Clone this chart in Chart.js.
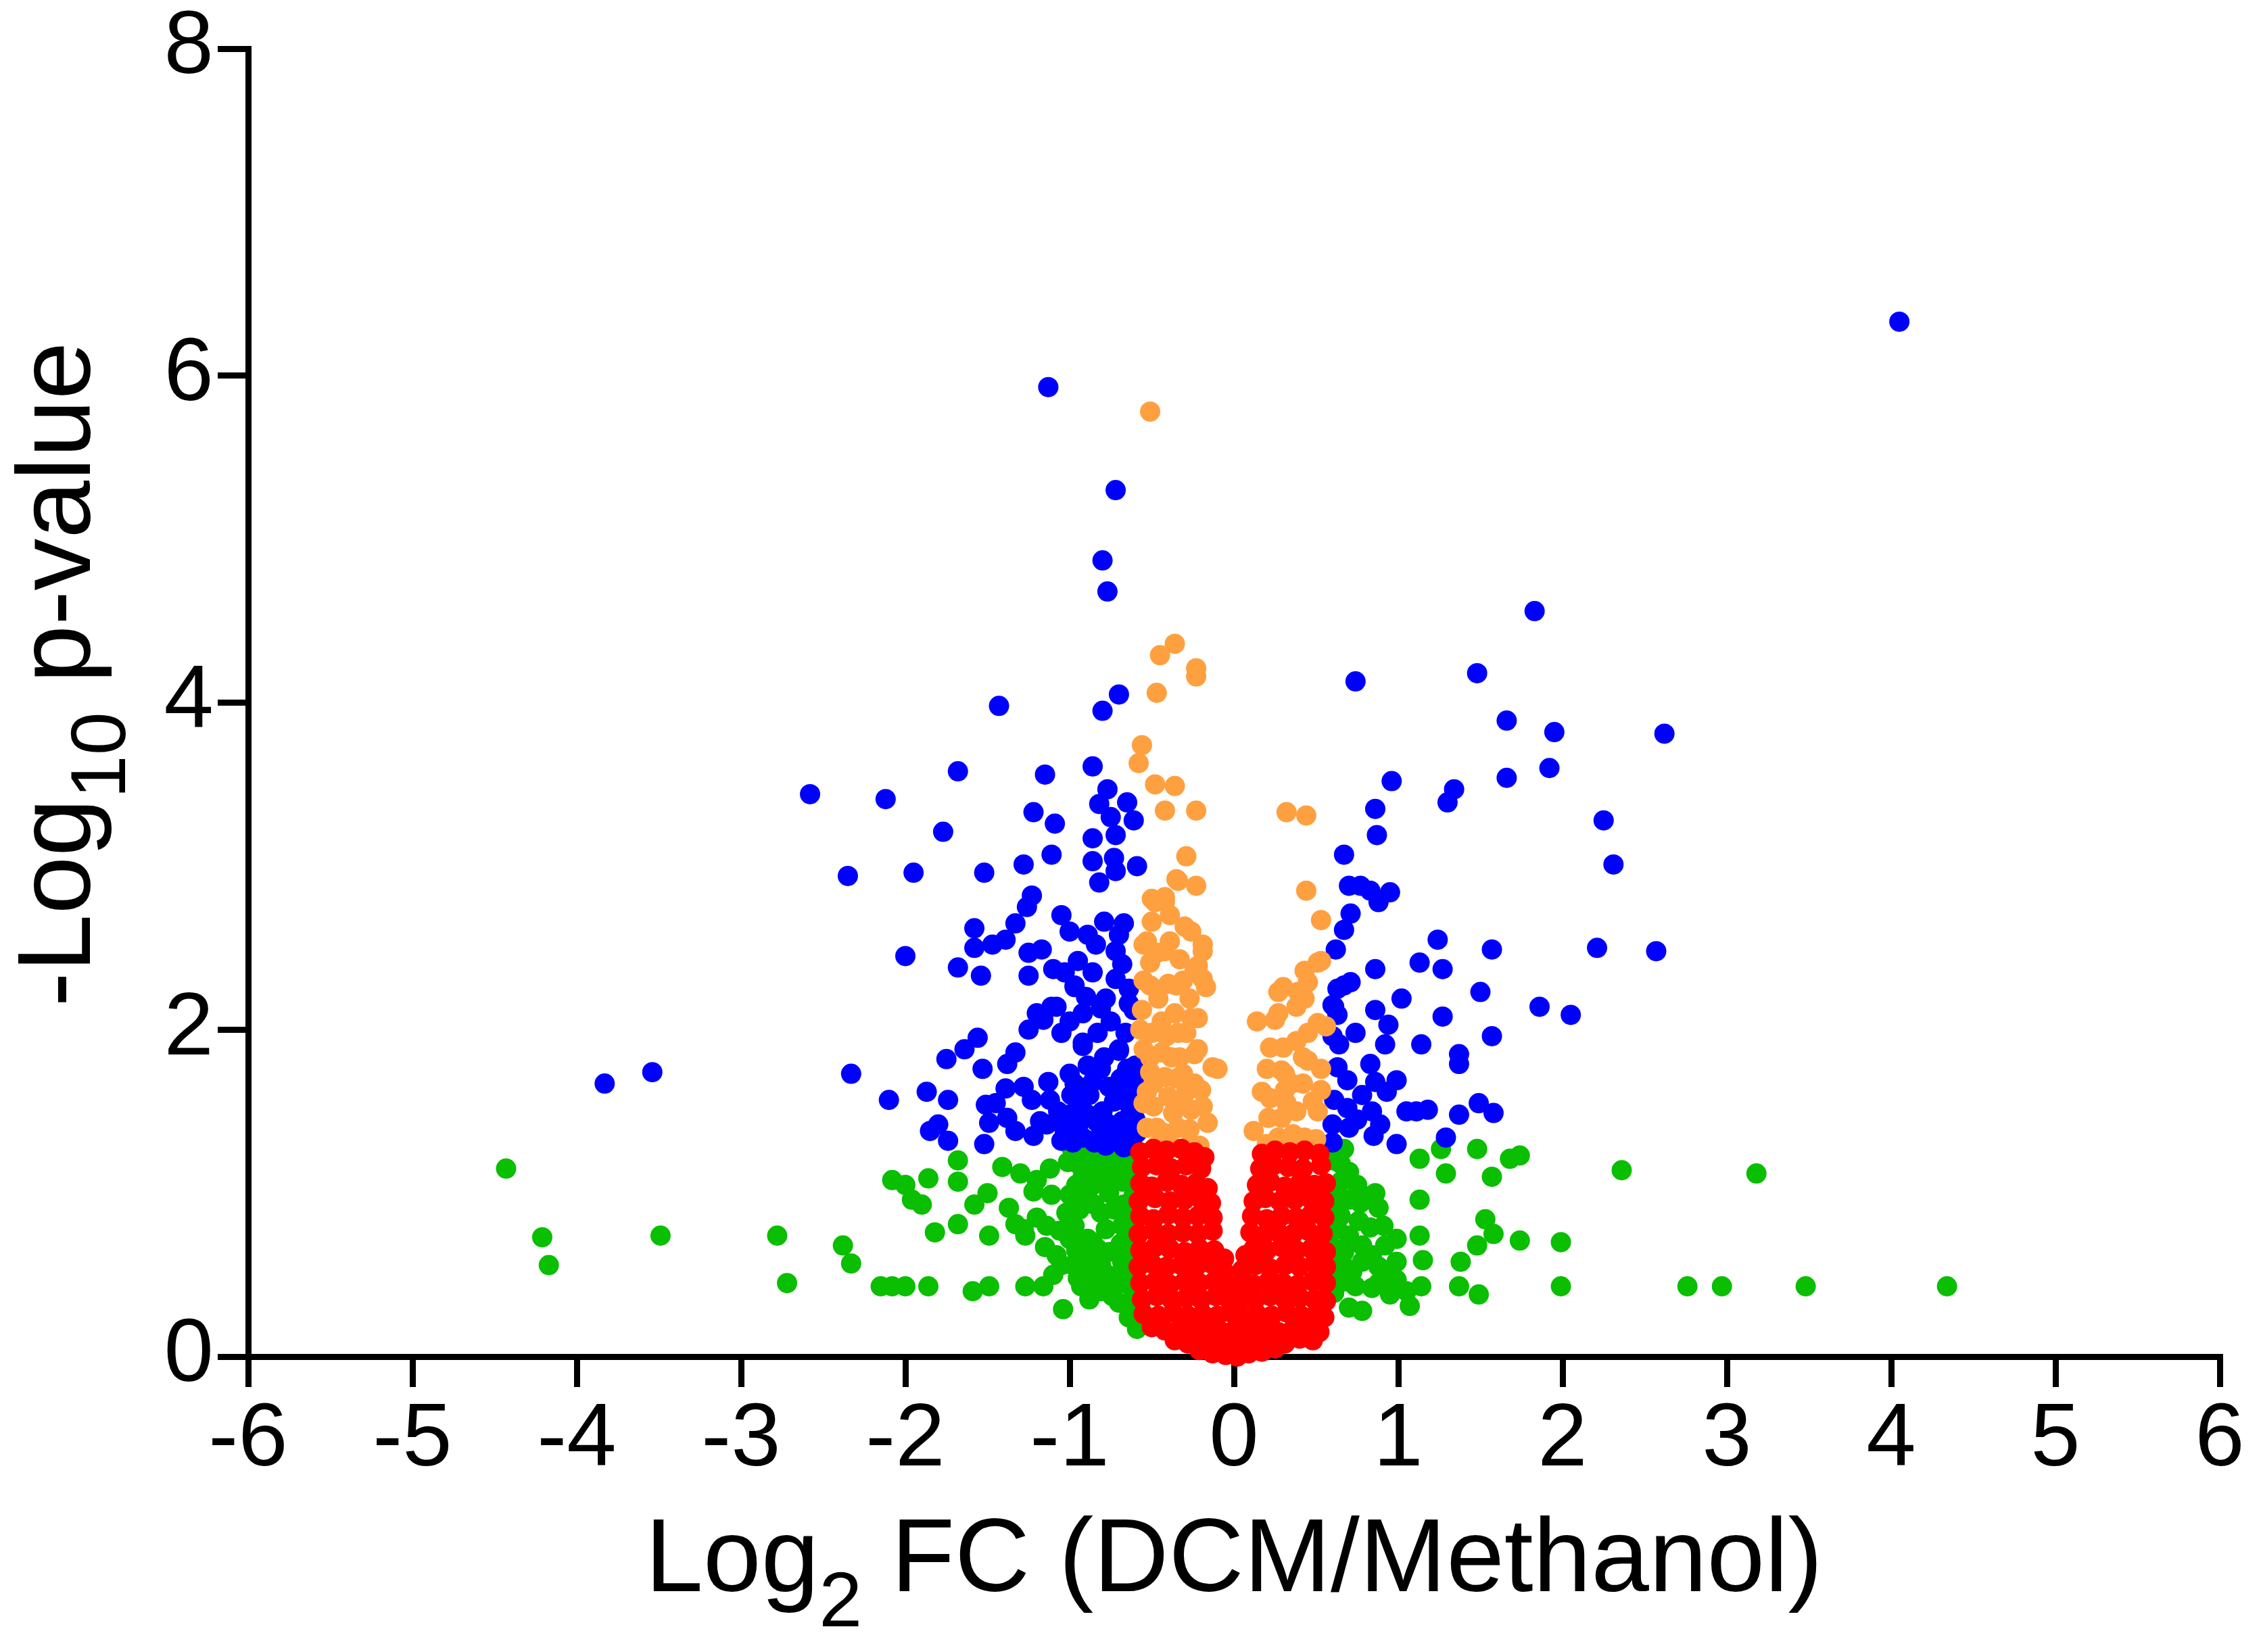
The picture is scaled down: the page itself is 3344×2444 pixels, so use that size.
<!DOCTYPE html>
<html>
<head>
<meta charset="utf-8">
<script src="https://cdn.jsdelivr.net/npm/chart.js@4.4.1/dist/chart.umd.min.js"></script>
<style>
  html, body { margin: 0; padding: 0; background: #fff; }
  canvas { display: block; }
</style>
</head>
<body>
<canvas id="volcano" width="3344" height="2444"></canvas>
<script>
// [log2 FC, -log10 p] pairs
const upOrDownSig = [ // blue: |FC| > 0.58 and p < 0.05
  [4.05,6.33],[-1.13,5.93],[-0.72,5.3],[-0.8,4.87],[-0.77,4.68],[-1.43,3.98],[-0.7,4.05],[-0.8,3.95],
  [1.83,4.56],[1.48,4.18],[0.74,4.13],[1.66,3.89],[1.95,3.82],[2.62,3.81],[0.96,3.52],[1.66,3.54],
  [1.92,3.6],[1.34,3.47],[1.3,3.39],[0.86,3.35],[0.87,3.19],[2.25,3.28],[2.31,3.01],[0.67,3.07],
  [-3.83,1.67],[-3.54,1.74],[-2.58,3.44],[-2.12,3.41],[-2.35,2.94],[-2.33,1.73],[-2.1,1.57],[-2.0,2.45],
  [-1.95,2.96],[-1.77,3.21],[-1.68,3.58],[-1.15,3.56],[-0.86,3.61],[-0.77,3.47],[-0.82,3.38],[-0.65,3.39],
  [-0.75,3.3],[-0.61,3.28],[-0.86,3.17],[-0.72,3.19],[-1.22,3.33],[-1.09,3.26],[-1.11,3.07],[-1.28,3.01],
  [-1.52,2.96],[-0.86,3.03],[-0.73,3.05],[-0.59,3.0],[-0.72,2.97],[-0.82,2.9],[-1.23,2.82],[-1.26,2.75],
  [-1.33,2.65],[-1.58,2.62],[-1.39,2.55],[-1.47,2.52],[-1.58,2.5],[-1.05,2.7],[-1.0,2.6],[-0.89,2.58],
  [-0.79,2.66],[-0.67,2.65],[-0.72,2.48],[-0.84,2.52],[-1.25,2.47],[-1.17,2.49],[-1.1,2.37],[-1.25,2.33],
  [-1.68,2.38],[-1.54,2.33],[-0.86,2.35],[-0.72,2.31],[-0.97,2.26],[-0.78,2.19],[-0.61,2.12],[-1.08,2.14],
  [-1.16,2.06],[-1.25,2.0],[-1.05,1.98],[-0.92,2.1],[-0.92,1.92],[-1.56,1.95],[-1.64,1.88],[-1.75,1.82],
  [-1.53,1.76],[-1.33,1.86],[-1.38,1.79],[-0.7,1.87],[-0.81,1.76],[-0.65,1.76],[-1.0,1.73],[-0.97,2.27],
  [-0.81,2.13],[-0.64,2.16],[-1.2,2.1],[-1.11,2.14],[-1.87,1.62],[-1.74,1.57],[-1.85,1.38],[-1.74,1.32],
  [-1.8,1.42],[-1.52,1.3],[-1.49,1.43],[-1.38,1.46],[-1.33,1.38],[-1.39,1.64],[-1.28,1.65],[-1.23,1.57],
  [-1.13,1.68],[-1.12,1.57],[-1.22,1.35],[-1.14,1.42],[-1.05,1.32],[-0.98,1.31],[-1.0,1.48],[-0.89,1.48],
  [-0.81,1.37],[-0.73,1.56],[-0.6,1.45],[-0.62,1.32],[-0.72,1.32],[-0.97,1.67],[-0.89,1.78],[-0.79,1.83],
  [-0.7,1.88],[-0.59,1.67],[-0.92,1.9],[-0.88,1.6],[-0.8,1.5],[-0.66,1.6],[-0.95,1.4],[-0.85,1.31],
  [-0.68,1.44],[-1.07,1.5],[-1.45,1.55],[-1.51,1.54],[-1.18,1.44],[-1.08,1.44],
  [-0.66,1.36],[-0.76,1.42],[-0.84,1.44],[-0.93,1.55],[-0.86,1.68],[-0.76,1.65],[-0.69,1.7],[-0.63,1.52],
  [-0.99,1.6],[-1.03,1.38],[-0.92,1.34],[-0.78,1.29],[-0.67,1.28],[-0.59,1.37],[-0.59,1.56],[-0.6,1.78],
  [-0.95,2.42],[-0.9,2.2],[-0.68,2.4],[-0.64,2.25],[-0.75,2.05],[-0.66,1.98],[-0.83,1.98],[-1.0,2.05],
  [-1.03,2.35],[-0.7,2.58],
  [0.7,2.88],[0.77,2.88],[0.83,2.85],[0.88,2.78],[0.95,2.84],[0.71,2.71],[0.67,2.61],[0.62,2.49],
  [1.24,2.55],[1.57,2.49],[2.21,2.5],[2.57,2.48],[0.86,2.37],[1.13,2.41],[1.27,2.37],[0.71,2.29],
  [0.63,2.25],[0.6,2.15],[0.63,2.09],[1.02,2.19],[0.86,2.12],[0.94,2.03],[0.92,1.91],[1.5,2.23],
  [1.86,2.14],[2.05,2.09],[1.27,2.08],[1.14,1.91],[1.57,1.96],[1.37,1.85],[1.37,1.79],[0.74,1.98],
  [0.6,1.96],[0.64,1.91],[0.63,1.77],[0.69,1.69],[0.83,1.79],[0.86,1.68],[0.99,1.69],[0.93,1.62],
  [1.49,1.55],[1.58,1.49],[1.11,1.5],[1.18,1.51],[1.37,1.48],[0.61,1.57],[0.69,1.52],[0.6,1.42],
  [0.7,1.4],[0.84,1.5],[0.89,1.42],[0.85,1.35],[0.6,1.31],[0.99,1.3],[1.05,1.5],[1.29,1.34],
  [0.67,2.27],[0.61,2.14],[0.78,1.6],[0.75,1.45]
];

const pOnlySig = [ // orange: p < 0.05, small FC
  [-0.51,5.78],[-0.36,4.36],[-0.45,4.29],[-0.23,4.21],[-0.23,4.16],[-0.47,4.06],[-0.56,3.74],[-0.58,3.63],
  [-0.48,3.5],[-0.36,3.49],[-0.42,3.34],[-0.23,3.34],[0.32,3.33],[0.44,3.31],[-0.29,3.06],[-0.34,2.91],
  [-0.23,2.88],[0.44,2.85],[0.53,2.67],[-0.5,2.8],[-0.42,2.81],[-0.39,2.7],[-0.5,2.66],[-0.19,2.52],
  [-0.53,2.54],[-0.39,2.54],[-0.47,2.47],[-0.19,2.48],[-0.51,2.27],[-0.35,2.27],[-0.24,2.36],[-0.19,2.31],
  [-0.22,2.07],[-0.34,1.98],[-0.57,2.0],[-0.44,2.05],[-0.51,1.83],[-0.38,1.83],[-0.24,1.85],[-0.1,1.76],
  [-0.49,1.67],[-0.35,1.7],[-0.24,1.67],[-0.49,1.53],[-0.35,1.53],[-0.19,1.53],[-0.47,1.4],[-0.34,1.4],
  [-0.16,1.43],[-0.47,1.29],[-0.21,1.29],[-0.55,2.52],[-0.42,2.48],[-0.51,2.41],[-0.33,2.43],[-0.22,2.39],
  [-0.55,2.3],[-0.4,2.28],[-0.31,2.3],[-0.46,2.19],[-0.27,2.19],[-0.17,2.26],[-0.56,2.12],[-0.36,2.1],
  [-0.26,2.07],[-0.5,1.98],[-0.41,1.96],[-0.29,1.98],[-0.55,1.88],[-0.44,1.86],[-0.33,1.83],[-0.22,1.88],
  [-0.13,1.77],[-0.51,1.74],[-0.42,1.71],[-0.31,1.73],[-0.53,1.62],[-0.4,1.59],[-0.29,1.62],[-0.2,1.63],
  [-0.37,1.49],[-0.26,1.51],[-0.53,1.4],[-0.43,1.37],[-0.27,1.39],[-0.38,1.29],[-0.27,1.3],[-0.55,1.55],
  [-0.3,2.63],[-0.26,2.6],[-0.48,2.78],[-0.42,2.78],[-0.35,2.92],
  [0.53,2.42],[0.43,2.36],[0.45,2.29],[0.3,2.26],[0.14,2.05],[0.27,2.1],[0.38,2.14],[0.43,2.19],
  [0.56,2.02],[0.38,1.93],[0.42,1.83],[0.53,1.76],[0.53,1.63],[0.2,1.76],[0.31,1.73],[0.17,1.62],
  [0.31,1.63],[0.42,1.67],[0.51,1.5],[0.21,1.46],[0.38,1.5],[0.12,1.38],[0.27,1.34],[0.43,1.34],
  [0.5,1.33],[0.45,1.98],[0.22,1.89],[0.3,1.89],[0.29,1.75],[0.45,1.81],[0.35,1.67],[0.22,1.58],
  [0.32,1.55],[0.48,1.56],[0.29,1.46],[0.36,1.36],[0.2,1.3],[0.3,1.29],[0.41,1.28],[0.51,2.04],
  [0.25,2.06],[0.39,2.23],[0.27,2.23],[0.51,2.41]
];

const fcOnly = [ // green: |FC| > 0.58, not significant
  [-4.43,1.15],[-4.21,0.73],[-4.17,0.56],[-3.49,0.74],[-2.78,0.74],[-2.72,0.45],[-2.38,0.68],[-2.33,0.57],
  [-2.15,0.43],[-2.08,0.43],[-2.0,0.43],[-1.86,0.43],[-1.59,0.4],[-1.49,0.43],[-1.27,0.43],[-1.16,0.43],
  [-1.04,0.29],[-2.08,1.08],[-2.0,1.05],[-1.96,0.96],[-1.9,0.93],[-1.86,1.09],[-1.68,1.2],[-1.68,1.07],
  [-1.82,0.76],[-1.68,0.81],[-1.49,0.74],[-1.58,0.93],[-1.5,1.0],[-1.41,1.16],[-1.3,1.12],[-1.2,1.08],
  [-1.37,0.91],[-1.33,0.81],[-1.27,0.74],[-1.2,0.85],[-1.14,0.8],[-1.15,0.67],[-1.11,0.99],[-1.0,0.99],
  [-0.97,0.8],[-1.0,0.72],[-1.01,1.19],[-0.92,1.1],[-0.81,1.19],[-0.7,1.16],[-0.6,1.16],[-0.89,0.96],
  [-0.76,1.0],[-0.61,0.99],[-0.81,0.88],[-0.68,0.8],[-0.89,0.72],[-0.76,0.64],[-0.61,0.67],[-1.05,0.56],
  [-0.92,0.53],[-0.81,0.56],[-0.68,0.58],[-0.59,0.56],[-0.81,0.4],[-0.7,0.33],[-0.61,0.4],[-0.59,0.17],
  [-0.99,1.28],[-0.92,1.24],[-0.84,1.26],[-0.73,1.24],[-0.65,1.26],[-1.28,0.78],[-0.98,0.56],[-0.93,0.43],
  [-0.73,0.43],[-0.84,0.5],[-0.64,0.84],[-0.73,0.9],[-0.68,1.07],[-0.86,0.7],[-0.6,0.3],[-1.22,1.01],
  [-1.12,1.15],
  [-0.95,1.18],[-0.86,1.15],[-0.77,1.12],[-0.63,1.08],[-0.96,1.05],[-0.87,1.04],[-0.79,1.06],[-0.94,0.9],
  [-0.85,0.93],[-0.67,0.93],[-0.96,0.65],[-0.9,0.62],[-0.83,0.66],[-0.69,0.69],[-0.63,0.76],[-0.78,0.78],
  [-0.95,0.48],[-0.87,0.46],[-0.77,0.5],[-0.66,0.5],[-0.64,0.24],[-0.74,0.37],[-0.88,0.35],[-0.67,0.45],
  [-1.02,0.88],[-1.06,0.77],[-1.08,0.62],[-1.1,0.5],
  [0.67,1.27],[0.7,1.13],[0.65,1.07],[1.13,1.21],[1.26,1.27],[1.29,1.12],[1.48,1.27],[1.68,1.21],
  [1.74,1.23],[1.57,1.1],[2.36,1.14],[1.13,0.96],[0.86,1.0],[0.77,0.94],[0.88,0.91],[0.6,0.88],
  [0.65,0.86],[0.83,0.79],[0.7,0.74],[0.91,0.8],[0.99,0.72],[1.13,0.74],[1.53,0.84],[1.58,0.75],
  [1.48,0.68],[1.74,0.71],[1.99,0.7],[0.6,0.67],[0.67,0.64],[0.84,0.62],[0.88,0.55],[0.99,0.58],
  [1.15,0.59],[1.38,0.58],[0.6,0.52],[0.61,0.39],[0.74,0.43],[0.84,0.42],[0.99,0.47],[1.05,0.4],
  [1.14,0.43],[1.07,0.31],[0.78,0.28],[1.37,0.43],[1.49,0.38],[1.99,0.43],[2.76,0.43],[2.97,0.43],
  [3.18,1.12],[3.48,0.43],[4.34,0.43],[0.6,1.2],[0.62,1.0],[0.72,0.52],
  [0.65,1.18],[0.75,1.05],[0.82,0.98],[0.7,0.96],[0.63,0.78],[0.76,0.83],[0.92,0.68],[0.78,0.68],
  [0.66,0.57],[0.78,0.58],[0.92,0.5],[0.68,0.46],[0.88,0.45],[0.95,0.38],[0.7,0.3],[0.64,0.93]
];

const notSig = [ // red
  [-0.57,1.25],[-0.49,1.27],[-0.41,1.26],[-0.32,1.27],[-0.24,1.25],[-0.18,1.22],
  [0.17,1.24],[0.25,1.26],[0.34,1.25],[0.43,1.26],[0.52,1.24],
  [-0.56,1.16],[-0.47,1.17],[-0.38,1.15],[-0.29,1.17],[-0.2,1.15],
  [0.16,1.15],[0.24,1.17],[0.33,1.16],[0.42,1.15],[0.53,1.17],
  [-0.57,1.06],[-0.5,1.04],[-0.41,1.07],[-0.32,1.05],[-0.23,1.06],[-0.16,1.03],
  [0.14,1.05],[0.22,1.07],[0.31,1.04],[0.4,1.06],[0.49,1.05],[0.56,1.06],
  [-0.58,0.95],[-0.48,0.97],[-0.39,0.95],[-0.3,0.96],[-0.21,0.97],[-0.14,0.94],
  [0.12,0.95],[0.19,0.97],[0.28,0.95],[0.37,0.96],[0.46,0.97],[0.55,0.95],
  [-0.57,0.86],[-0.49,0.84],[-0.4,0.87],[-0.31,0.85],[-0.22,0.86],[-0.13,0.85],
  [0.11,0.86],[0.2,0.84],[0.29,0.86],[0.38,0.85],[0.47,0.87],[0.55,0.85],
  [-0.58,0.75],[-0.49,0.77],[-0.4,0.75],[-0.31,0.76],[-0.22,0.75],[-0.13,0.77],
  [0.1,0.76],[0.18,0.74],[0.27,0.76],[0.36,0.75],[0.45,0.77],[0.54,0.75],
  [-0.57,0.65],[-0.48,0.67],[-0.39,0.66],[-0.3,0.64],[-0.21,0.66],[-0.12,0.65],[-0.06,0.6],
  [0.07,0.62],[0.12,0.66],[0.2,0.65],[0.29,0.67],[0.38,0.65],[0.47,0.66],[0.56,0.64],
  [-0.58,0.55],[-0.5,0.57],[-0.41,0.55],[-0.32,0.56],[-0.23,0.55],[-0.14,0.57],[-0.06,0.52],
  [0.05,0.53],[0.13,0.56],[0.22,0.54],[0.31,0.56],[0.4,0.55],[0.49,0.57],[0.56,0.55],
  [-0.57,0.45],[-0.48,0.46],[-0.39,0.44],[-0.3,0.46],[-0.21,0.45],[-0.12,0.46],[-0.04,0.44],[0.04,0.45],
  [0.12,0.44],[0.21,0.46],[0.3,0.45],[0.39,0.44],[0.48,0.46],[0.56,0.45],
  [-0.56,0.35],[-0.47,0.37],[-0.38,0.35],[-0.29,0.36],[-0.2,0.35],[-0.11,0.37],[-0.03,0.35],[0.05,0.36],
  [0.13,0.35],[0.22,0.37],[0.31,0.35],[0.4,0.36],[0.49,0.35],[0.56,0.34],
  [-0.55,0.26],[-0.46,0.25],[-0.37,0.27],[-0.28,0.25],[-0.19,0.26],[-0.1,0.25],[-0.02,0.27],[0.06,0.25],
  [0.14,0.26],[0.23,0.25],[0.32,0.27],[0.41,0.25],[0.5,0.26],[0.55,0.24],
  [-0.5,0.18],[-0.42,0.16],[-0.33,0.17],[-0.24,0.16],[-0.15,0.17],[-0.07,0.15],[0.01,0.17],[0.09,0.16],
  [0.18,0.17],[0.27,0.15],[0.36,0.17],[0.45,0.16],[0.52,0.15],
  [-0.36,0.1],[-0.28,0.08],[-0.19,0.09],[-0.11,0.07],[-0.03,0.08],[0.05,0.09],[0.13,0.07],[0.22,0.09],
  [0.31,0.08],[0.4,0.11],[0.48,0.1],
  [-0.21,0.04],[-0.13,0.02],[-0.05,0.01],[0.02,0.0],[0.09,0.02],[0.17,0.03],[0.25,0.05]
];

const xTicks = [-6, -5, -4, -3, -2, -1, 0, 1, 2, 3, 4, 5, 6];
const yTicks = [0, 2, 4, 6, 8];

const FONT = '"Liberation Sans", Arial, sans-serif';
const toPoints = arr => arr.map(p => ({ x: p[0], y: p[1] }));

// axis titles with subscripts, drawn by hand
function drawSubText(ctx, parts, cx, baseY) {
  const big = '154px ' + FONT, small = '115px ' + FONT;
  let total = 0;
  parts.forEach(p => { ctx.font = p.sub ? small : big; total += ctx.measureText(p.t).width; });
  let x = cx - total / 2;
  parts.forEach(p => {
    ctx.font = p.sub ? small : big;
    ctx.fillText(p.t, x, baseY + (p.sub ? 52 : 0));
    x += ctx.measureText(p.t).width;
  });
}

const axisTitles = {
  id: 'axisTitles',
  afterDraw(chart) {
    const { ctx, chartArea } = chart;
    ctx.save();
    ctx.fillStyle = '#000';
    ctx.textAlign = 'left';
    ctx.textBaseline = 'alphabetic';
    drawSubText(ctx, [{ t: 'Log' }, { t: '2', sub: true }, { t: ' FC (DCM/Methanol)' }],
      (chartArea.left + chartArea.right) / 2, chartArea.bottom + 347);
    ctx.translate(chartArea.left - 234, (chartArea.top + chartArea.bottom) / 2 - 42);
    ctx.rotate(-Math.PI / 2);
    drawSubText(ctx, [{ t: '-Log' }, { t: '10', sub: true }, { t: ' p-value' }], 0, 0);
    ctx.restore();
  }
};

const axisStyle = {
  grid: { drawOnChartArea: false, drawTicks: true, tickLength: 45, lineWidth: 9, tickWidth: 9, color: '#000', tickColor: '#000' },
  border: { display: true, width: 9, color: '#000' }
};

new Chart(document.getElementById('volcano'), {
  type: 'scatter',
  data: {
    datasets: [
      { label: 'not significant', data: toPoints(notSig), backgroundColor: '#FF0000', order: 0 },
      { label: 'p only', data: toPoints(pOnlySig), backgroundColor: '#FFA040', order: 1 },
      { label: 'FC and p', data: toPoints(upOrDownSig), backgroundColor: '#0000FF', order: 2 },
      { label: 'FC only', data: toPoints(fcOnly), backgroundColor: '#0ABE00', order: 3 }
    ]
  },
  options: {
    responsive: false,
    animation: false,
    clip: false,
    layout: { padding: { top: 68, right: 61, left: 0, bottom: 0 } },
    elements: { point: { radius: 15, hoverRadius: 15, borderWidth: 0 } },
    plugins: { legend: { display: false }, tooltip: { enabled: false } },
    scales: {
      x: {
        type: 'linear', min: -6, max: 6, z: 1,
        afterBuildTicks: s => { s.ticks = xTicks.map(v => ({ value: v })); },
        ticks: { color: '#000', font: { family: FONT, size: 132, lineHeight: 1 }, padding: 14, autoSkip: false, maxRotation: 0 },
        afterFit: s => { s.height = 437; },
        ...axisStyle
      },
      y: {
        type: 'linear', min: 0, max: 8, z: 1,
        afterBuildTicks: s => { s.ticks = yTicks.map(v => ({ value: v })); },
        ticks: { color: '#000', font: { family: FONT, size: 132, lineHeight: 1 }, padding: 6 },
        afterFit: s => { s.width = 367; },
        ...axisStyle
      }
    }
  },
  plugins: [axisTitles]
});
</script>
</body>
</html>
